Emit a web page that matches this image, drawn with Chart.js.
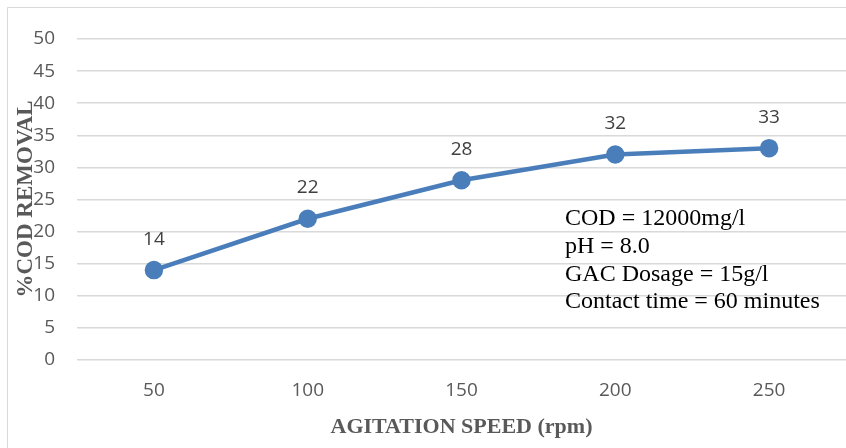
<!DOCTYPE html>
<html>

<head>
    <style>
        body { margin: 0; background: #fff; }
        #container { width: 846px; height: 448px; }
    </style>
    <title>COD Removal vs Agitation Speed</title>
</head>

<body>
    <div id="container">
        <canvas id="canvas" width="846" height="448"></canvas>
    </div>
    <script src="https://cdn.jsdelivr.net/npm/chart.js@4/dist/chart.umd.min.js"></script>
    <script type="text/javascript">
        var speeds = ['50', '100', '150', '200', '250'];
        var codRemoval = [14, 22, 28, 32, 33];
        var yTitle = '%COD REMOVAL';
        var xTitle = 'AGITATION SPEED (rpm)';
        var notes = ['COD = 12000mg/l', 'pH = 8.0', 'GAC Dosage = 15g/l', 'Contact time = 60 minutes'];

        // frame, titles, note box and point labels
        var decorations = {
            id: 'decorations',
            beforeDraw: function(chart) {
                var ctx = chart.ctx;
                ctx.save();
                ctx.fillStyle = '#fff';
                ctx.fillRect(0, 0, chart.width, chart.height);
                ctx.strokeStyle = '#d9d9d9';
                ctx.lineWidth = 1;
                ctx.beginPath();
                ctx.moveTo(7.5, chart.height);
                ctx.lineTo(7.5, 7.5);
                ctx.lineTo(chart.width, 7.5);
                ctx.stroke();
                ctx.restore();
            },
            afterDatasetsDraw: function(chart) {
                var ctx = chart.ctx;
                var area = chart.chartArea;
                ctx.save();
                // point labels
                ctx.font = '19px "Open Sans"';
                ctx.fillStyle = '#404040';
                ctx.textAlign = 'center';
                ctx.textBaseline = 'middle';
                chart.getDatasetMeta(0).data.forEach(function(pt, i) {
                    ctx.fillText(String(codRemoval[i]), pt.x, pt.y - 31);
                });
                // note text
                ctx.font = '24px "Liberation Serif"';
                ctx.fillStyle = '#000';
                ctx.textAlign = 'left';
                notes.forEach(function(line, i) {
                    ctx.fillText(line, 565, 219 + i * 27.7);
                });
                // axis titles
                ctx.font = 'bold 22px "Liberation Serif"';
                ctx.fillStyle = '#595959';
                ctx.textAlign = 'center';
                ctx.fillText(xTitle, (area.left + area.right) / 2, 427);
                ctx.font = 'bold 23px "Liberation Serif"';
                ctx.translate(26, 199);
                ctx.rotate(-Math.PI / 2);
                ctx.fillText(yTitle, 0, 0);
                ctx.restore();
            }
        };

        window.onload = function() {
            var ctx = document.getElementById('canvas').getContext('2d');
            window.myChart = new Chart(ctx, {
                type: 'line',
                data: {
                    labels: speeds,
                    datasets: [{
                        label: '%COD Removal',
                        data: codRemoval,
                        borderColor: '#4a7ebb',
                        backgroundColor: '#4a7ebb',
                        borderWidth: 4.5,
                        pointRadius: 7,
                        pointHoverRadius: 7,
                        tension: 0,
                        fill: false
                    }]
                },
                options: {
                    responsive: false,
                    animation: false,
                    layout: {
                        autoPadding: false,
                        padding: { top: 39, right: 0, left: 0, bottom: 0 }
                    },
                    plugins: {
                        legend: { display: false },
                        tooltip: { enabled: false }
                    },
                    scales: {
                        x: {
                            offset: true,
                            grid: { display: false, drawTicks: false },
                            border: { display: false },
                            ticks: {
                                color: '#595959',
                                font: { family: 'Open Sans', size: 19 },
                                padding: 19,
                                maxRotation: 0
                            },
                            afterFit: function(scale) {
                                scale.height = 88;
                                scale.paddingLeft = 0;
                                scale.paddingRight = 0;
                            }
                        },
                        y: {
                            min: 0,
                            max: 50,
                            grid: { color: '#d9d9d9', lineWidth: 1.5, drawTicks: false },
                            border: { display: false },
                            ticks: {
                                stepSize: 5,
                                color: '#595959',
                                font: { family: 'Open Sans', size: 19 },
                                padding: 22
                            },
                            afterFit: function(scale) { scale.width = 77; }
                        }
                    }
                },
                plugins: [decorations]
            });
        };
    </script>
</body>

</html>
